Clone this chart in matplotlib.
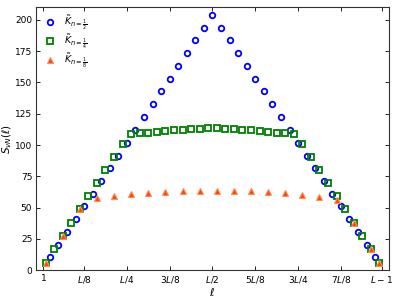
import numpy as np
import matplotlib
matplotlib.use('Agg')
import matplotlib.pyplot as plt

L = 160

# n = 1/2 (blue circles)
ell_half = [4, 8, 12, 16, 20, 24, 28, 32, 36, 40, 44, 48, 52, 56, 60, 64, 68, 72, 76, 80,
            84, 88, 92, 96, 100, 104, 108, 112, 116, 120, 124, 128, 132, 136, 140, 144, 148, 152, 156]
S_half = [10.4, 20.3, 30.6, 40.9, 51.0, 61.1, 71.3, 81.6, 91.6, 102.0, 112.1, 122.4, 132.6, 142.8,
          152.9, 163.1, 173.3, 183.5, 193.7, 203.8,
          193.7, 183.5, 173.3, 163.1, 152.9, 142.8, 132.6, 122.4, 112.1, 102.0, 91.6, 81.6, 71.3,
          61.1, 51.0, 40.9, 30.6, 20.3, 10.4]

# n = 1/4 (green squares)
ell_quarter = [2, 6, 10, 14, 18, 22, 26, 30, 34, 38, 42, 46, 50, 54, 58, 62, 66, 70, 74, 78,
               82, 86, 90, 94, 98, 102, 106, 110, 114, 118, 122, 126, 130, 134, 138, 142, 146, 150, 154, 158]
S_quarter = [6.0, 16.7, 27.4, 37.8, 48.7, 59.0, 69.7, 80.1, 90.7, 101.1, 108.8, 109.3, 109.8, 110.4,
             111.1, 111.7, 112.2, 112.7, 113.1, 113.5,
             113.5, 113.1, 112.6, 112.2, 111.7, 111.2, 110.6, 110.0, 109.5, 108.8, 101.2, 90.7, 80.2,
             69.7, 59.0, 48.7, 37.9, 27.4, 16.7, 6.0]

# n = 1/8 (orange triangles)
ell_eighth = [2, 10, 18, 26, 34, 42, 50, 58, 66, 74, 82, 90, 98, 106, 114, 122, 130, 138, 146, 154, 158]
S_eighth = [5.8, 27.4, 48.7, 57.6, 59.3, 60.9, 61.9, 62.7, 63.3, 63.5, 63.5, 63.3, 63.0, 62.3,
            61.4, 60.3, 58.3, 56.4, 37.9, 16.7, 5.6]

tick_pos = [1, L // 8, L // 4, 3 * L // 8, L // 2, 5 * L // 8, 3 * L // 4, 7 * L // 8, L - 1]
tick_lab = ['1', '$L/8$', '$L/4$', '$3L/8$', '$L/2$', '$5L/8$', '$3L/4$', '$7L/8$', '$L-1$']

fig = plt.figure(figsize=(3.99, 2.99), dpi=100)
ax = fig.add_axes([0.0895, 0.096, 0.886, 0.8796])

ax.plot(ell_half, S_half, 'o', ms=4.0, mfc='none', mec='blue', mew=1.3,
        label=r'$\tilde{K}_{n=\frac{1}{2}}$')
ax.plot(ell_quarter, S_quarter, 's', ms=4.0, mfc='none', mec='green', mew=1.3,
        label=r'$\tilde{K}_{n=\frac{1}{4}}$')
ax.plot(ell_eighth, S_eighth, '^', ms=4.5, mfc='orangered', mec='#ff8c5a', mew=0.8,
        label=r'$\tilde{K}_{n=\frac{1}{8}}$')

ax.set_xlim(-2.6, 162.6)
ax.set_ylim(0, 210)
ax.set_xticks(tick_pos)
ax.set_xticklabels(tick_lab)
ax.set_yticks(np.arange(0, 201, 25))
ax.tick_params(direction='in', top=True, right=True, labelsize=6.5, length=3, width=0.6, pad=2.5)
for s in ax.spines.values():
    s.set_linewidth(0.8)
    s.set_color('#333333')

ax.set_xlabel(r'$\ell$', fontsize=8, labelpad=1)
ax.set_ylabel(r'$S_{vN}(\ell)$', fontsize=7.5, labelpad=1)

ax.legend(loc='upper left', frameon=False, fontsize=6.8, handletextpad=0.5,
          labelspacing=0.05, borderaxespad=0.3, bbox_to_anchor=(-0.005, 1.0))

fig.savefig('out.png', dpi=100)
